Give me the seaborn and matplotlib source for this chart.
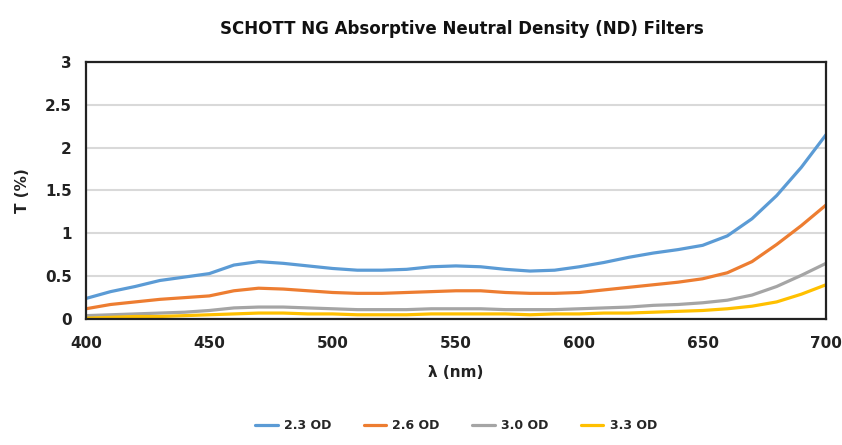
import pandas as pd
import seaborn as sns
import matplotlib.pyplot as plt

# ----- Data -----
wavelength = list(range(400, 701, 10))
od_23 = [0.24, 0.32, 0.38, 0.45, 0.49, 0.53, 0.63, 0.67, 0.65, 0.62, 0.59,
         0.57, 0.57, 0.58, 0.61, 0.62, 0.61, 0.58, 0.56, 0.57, 0.61,
         0.66, 0.72, 0.77, 0.81, 0.86, 0.97, 1.17, 1.44, 1.77, 2.15]
od_26 = [0.12, 0.17, 0.20, 0.23, 0.25, 0.27, 0.33, 0.36, 0.35, 0.33, 0.31,
         0.30, 0.30, 0.31, 0.32, 0.33, 0.33, 0.31, 0.30, 0.30, 0.31,
         0.34, 0.37, 0.40, 0.43, 0.47, 0.54, 0.67, 0.87, 1.09, 1.33]
od_30 = [0.04, 0.05, 0.06, 0.07, 0.08, 0.10, 0.13, 0.14, 0.14, 0.13, 0.12,
         0.11, 0.11, 0.11, 0.12, 0.12, 0.12, 0.11, 0.11, 0.11, 0.12,
         0.13, 0.14, 0.16, 0.17, 0.19, 0.22, 0.28, 0.38, 0.51, 0.65]
od_33 = [0.01, 0.02, 0.03, 0.03, 0.04, 0.05, 0.06, 0.07, 0.07, 0.06, 0.06,
         0.05, 0.05, 0.05, 0.06, 0.06, 0.06, 0.06, 0.05, 0.06, 0.06,
         0.07, 0.07, 0.08, 0.09, 0.10, 0.12, 0.15, 0.20, 0.29, 0.40]
series_names = ['2.3 OD', '2.6 OD', '3.0 OD', '3.3 OD']
colors = ['#5B9BD5', '#ED7D31', '#A5A5A5', '#FFC000']

df = pd.DataFrame({'wl': wavelength, '2.3 OD': od_23, '2.6 OD': od_26,
                   '3.0 OD': od_30, '3.3 OD': od_33})
long_df = df.melt(id_vars='wl', var_name='filter', value_name='T')

# ----- Style -----
sns.set_style('white')
plt.rcParams['font.family'] = ['DejaVu Sans']

fig = plt.figure(figsize=(8.42, 4.45), dpi=100)
ax = fig.add_axes([0.102, 0.283, 0.879, 0.578])

sns.lineplot(data=long_df, x='wl', y='T', hue='filter', hue_order=series_names,
             palette=colors, linewidth=2.3, ax=ax)

ax.set_xlim(400, 700)
ax.set_ylim(0, 3)
ax.set_xticks(range(400, 701, 50))
ax.set_yticks([0, 0.5, 1, 1.5, 2, 2.5, 3])
ax.set_yticklabels(['0', '0.5', '1', '1.5', '2', '2.5', '3'])
ax.yaxis.grid(True, color='#D9D9D9', linewidth=1.5)
ax.set_axisbelow(True)
for s in ax.spines.values():
    s.set_color('#222222')
    s.set_linewidth(1.6)
ax.tick_params(axis='x', labelsize=11, length=0, pad=12)
ax.tick_params(axis='y', labelsize=11, length=0, pad=10)
for lbl in ax.get_xticklabels() + ax.get_yticklabels():
    lbl.set_fontweight('bold')
    lbl.set_color('#222222')

ax.set_xlabel('λ (nm)', fontsize=11, fontweight='bold', color='#222222', labelpad=10)
ax.set_ylabel('T (%)', fontsize=11, fontweight='bold', color='#222222', labelpad=11)
fig.suptitle('SCHOTT NG Absorptive Neutral Density (ND) Filters', x=0.548, y=0.955,
             fontsize=12, fontweight='bold', color='#111111')

handles, labels = ax.get_legend_handles_labels()
ax.legend(handles, labels, loc='center', bbox_to_anchor=(0.5, -0.415),
          ncol=4, frameon=False, handlelength=1.8, handletextpad=0.5,
          columnspacing=2.6, prop={'weight': 'bold', 'size': 9})

fig.savefig('out.png', dpi=100)
